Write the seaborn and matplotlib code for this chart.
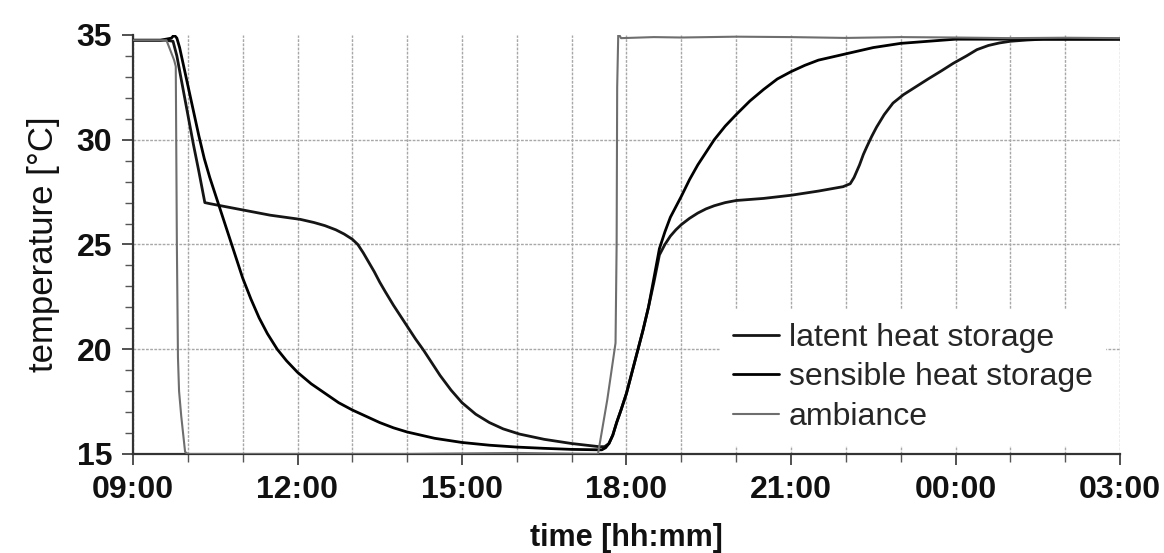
import matplotlib
matplotlib.use("Agg")
import matplotlib.pyplot as plt
import seaborn as sns
import pandas as pd
from matplotlib.ticker import MultipleLocator, FixedLocator

# ---------------- data (clock hours, 24+ = next day) ----------------
latent_t = [9.0, 9.6, 9.73, 9.8, 9.9, 10.0, 10.1, 10.2, 10.31, 10.4, 10.6, 11.0, 11.5,
            12.05, 12.3, 12.5, 12.7, 12.85, 13.0, 13.1, 13.2, 13.3, 13.4, 13.5, 13.6,
            13.75, 13.9, 14.0, 14.15, 14.3, 14.45, 14.6, 14.8, 15.0, 15.25, 15.5, 15.75,
            16.05, 16.5, 17.0, 17.5, 17.6, 17.68, 17.75, 17.82, 17.9, 18.0, 18.1, 18.2,
            18.3, 18.4, 18.5, 18.6, 18.7, 18.8, 18.9, 19.0, 19.15, 19.3, 19.45, 19.6,
            19.8, 20.0, 20.5, 21.0, 21.5, 21.95, 22.08, 22.15, 22.25, 22.32, 22.38,
            22.47, 22.56, 22.7, 22.86, 23.05, 23.29, 23.5, 23.75, 23.96, 24.2, 24.39,
            24.6, 24.8, 25.0, 25.3, 25.6, 27.0]
latent_v = [34.75, 34.75, 34.7, 34.0, 32.6, 31.2, 29.8, 28.5, 27.0, 26.95, 26.85, 26.65,
            26.4, 26.2, 26.05, 25.9, 25.7, 25.5, 25.25, 25.0, 24.6, 24.15, 23.7, 23.2,
            22.75, 22.1, 21.5, 21.1, 20.5, 19.95, 19.35, 18.75, 18.05, 17.45, 16.9, 16.5,
            16.2, 15.95, 15.7, 15.5, 15.35, 15.35, 15.5, 15.9, 16.5, 17.1, 17.9, 18.9,
            19.9, 20.9, 22.0, 23.2, 24.5, 25.0, 25.4, 25.7, 25.95, 26.25, 26.5, 26.7,
            26.85, 27.0, 27.1, 27.2, 27.35, 27.55, 27.76, 27.9, 28.2, 28.8, 29.3, 29.65,
            30.15, 30.6, 31.2, 31.75, 32.15, 32.55, 32.9, 33.3, 33.65, 34.0, 34.3,
            34.5, 34.62, 34.7, 34.76, 34.8, 34.8]

sensible_t = [9.0, 9.5, 9.7, 9.75, 9.8, 9.85, 9.9, 10.0, 10.1, 10.2, 10.3, 10.4, 10.5,
              10.6, 10.7, 10.8, 10.9, 11.0, 11.15, 11.3, 11.45, 11.63, 11.8, 12.0, 12.25,
              12.5, 12.75, 13.0, 13.25, 13.5, 13.75, 14.0, 14.25, 14.5, 14.75, 15.0, 15.5,
              16.0, 16.5, 17.0, 17.5, 17.55, 17.62, 17.68, 17.75, 17.82, 17.9, 18.0, 18.1,
              18.2, 18.3, 18.4, 18.5, 18.6, 18.7, 18.8, 18.9, 19.0, 19.15, 19.3, 19.45,
              19.6, 19.8, 20.0, 20.25, 20.5, 20.75, 21.0, 21.25, 21.5, 21.75, 22.0, 22.5,
              23.0, 23.5, 24.0, 25.0, 27.0]
sensible_v = [34.75, 34.75, 34.85, 35.0, 34.85, 34.4, 33.8, 32.6, 31.4, 30.2, 29.1, 28.2,
              27.4, 26.6, 25.8, 25.0, 24.2, 23.4, 22.4, 21.5, 20.75, 20.0, 19.45, 18.9,
              18.35, 17.9, 17.45, 17.1, 16.8, 16.5, 16.25, 16.05, 15.9, 15.75, 15.65,
              15.55, 15.42, 15.33, 15.27, 15.22, 15.2, 15.2, 15.3, 15.5, 15.9, 16.5, 17.1,
              17.9, 18.9, 19.9, 20.9, 22.0, 23.4, 24.8, 25.6, 26.3, 26.8, 27.3, 28.1,
              28.8, 29.4, 30.0, 30.65, 31.2, 31.85, 32.4, 32.9, 33.25, 33.55, 33.8, 33.95,
              34.1, 34.4, 34.6, 34.7, 34.8, 34.8, 34.8]

ambiance_t = [9.0, 9.61, 9.75, 9.78, 9.8, 9.82, 9.84, 9.88, 9.95, 10.0, 12.0, 14.0,
              16.0, 17.48, 17.65, 17.8, 17.82, 17.83, 17.85, 17.9, 18.5, 19.0, 20.0,
              21.0, 22.0, 23.0, 24.0, 25.0, 26.0, 27.0]
ambiance_v = [34.75, 34.75, 33.8, 33.5, 25.0, 19.6, 18.0, 16.8, 15.1, 15.0, 15.0, 15.0,
              15.05, 15.0, 17.6, 20.3, 25.0, 32.5, 35.1, 34.85, 34.9, 34.88, 34.92,
              34.9, 34.86, 34.9, 34.88, 34.85, 34.87, 34.85]

tick_pos = [9, 12, 15, 18, 21, 24, 27]
tick_labels = ["09:00", "12:00", "15:00", "18:00", "21:00", "00:00", "03:00"]
ytick_pos = [15, 20, 25, 30, 35]

# ---------------- style ----------------
sns.set_style("white")
plt.rcParams["font.family"] = ["Liberation Sans", "DejaVu Sans"]

fig = plt.figure(figsize=(11.64, 5.53), dpi=100)
ax = fig.add_axes([133 / 1164, 99 / 553, 987 / 1164, 419 / 553])

series = [
    ("latent heat storage", latent_t, latent_v, "#151515", 2.0),
    ("sensible heat storage", sensible_t, sensible_v, "#000000", 2.0),
    ("ambiance", ambiance_t, ambiance_v, "#6e6e6e", 1.5),
]
for name, t, v, col, lw in series:
    df = pd.DataFrame({"t": t, "v": v})
    sns.lineplot(data=df, x="t", y="v", ax=ax, color=col, linewidth=lw,
                 label=name, sort=False, estimator=None, zorder=3)

ax.set_xlim(9, 27)
ax.set_ylim(15, 35)
ax.xaxis.set_major_locator(FixedLocator(tick_pos))
ax.set_xticklabels(tick_labels)
ax.xaxis.set_minor_locator(MultipleLocator(1))
ax.yaxis.set_major_locator(FixedLocator(ytick_pos))
ax.yaxis.set_minor_locator(MultipleLocator(1))

for lab in ax.get_xticklabels() + ax.get_yticklabels():
    lab.set_fontweight("bold")
    lab.set_fontsize(23)
    lab.set_color("#111111")

ax.tick_params(which="major", direction="out", length=8, width=1.2,
               color="#333333", pad=7, bottom=True, left=True)
ax.tick_params(which="minor", direction="out", length=5.5, width=1.0,
               color="#555555", bottom=True, left=True)

ax.grid(which="both", axis="x", color="#a8a8a8", linestyle=(0, (2, 1)), linewidth=1.0)
ax.grid(which="major", axis="y", color="#a8a8a8", linestyle=(0, (2, 1)), linewidth=1.0)
ax.set_axisbelow(True)
ygl = ax.yaxis.get_gridlines()
ygl[0].set_visible(False)
ygl[-1].set_visible(False)

for s in ["top", "right"]:
    ax.spines[s].set_visible(False)
for s in ["left", "bottom"]:
    ax.spines[s].set_color("#333333")
    ax.spines[s].set_linewidth(1.6)

ax.set_xlabel("time [hh:mm]", fontsize=22, fontweight="bold", labelpad=13, color="#111111")
ax.set_ylabel("temperature [°C]", fontsize=25, labelpad=12, color="#111111")

leg = ax.legend(loc="lower right", bbox_to_anchor=(0.985, 0.022), borderaxespad=0,
                frameon=True, fancybox=False, framealpha=1, facecolor="white",
                edgecolor="white", fontsize=23, handlelength=1.45, handletextpad=0.3,
                labelspacing=0.3, borderpad=0.4)
leg.set_zorder(5)

fig.savefig("out.png", dpi=100)
